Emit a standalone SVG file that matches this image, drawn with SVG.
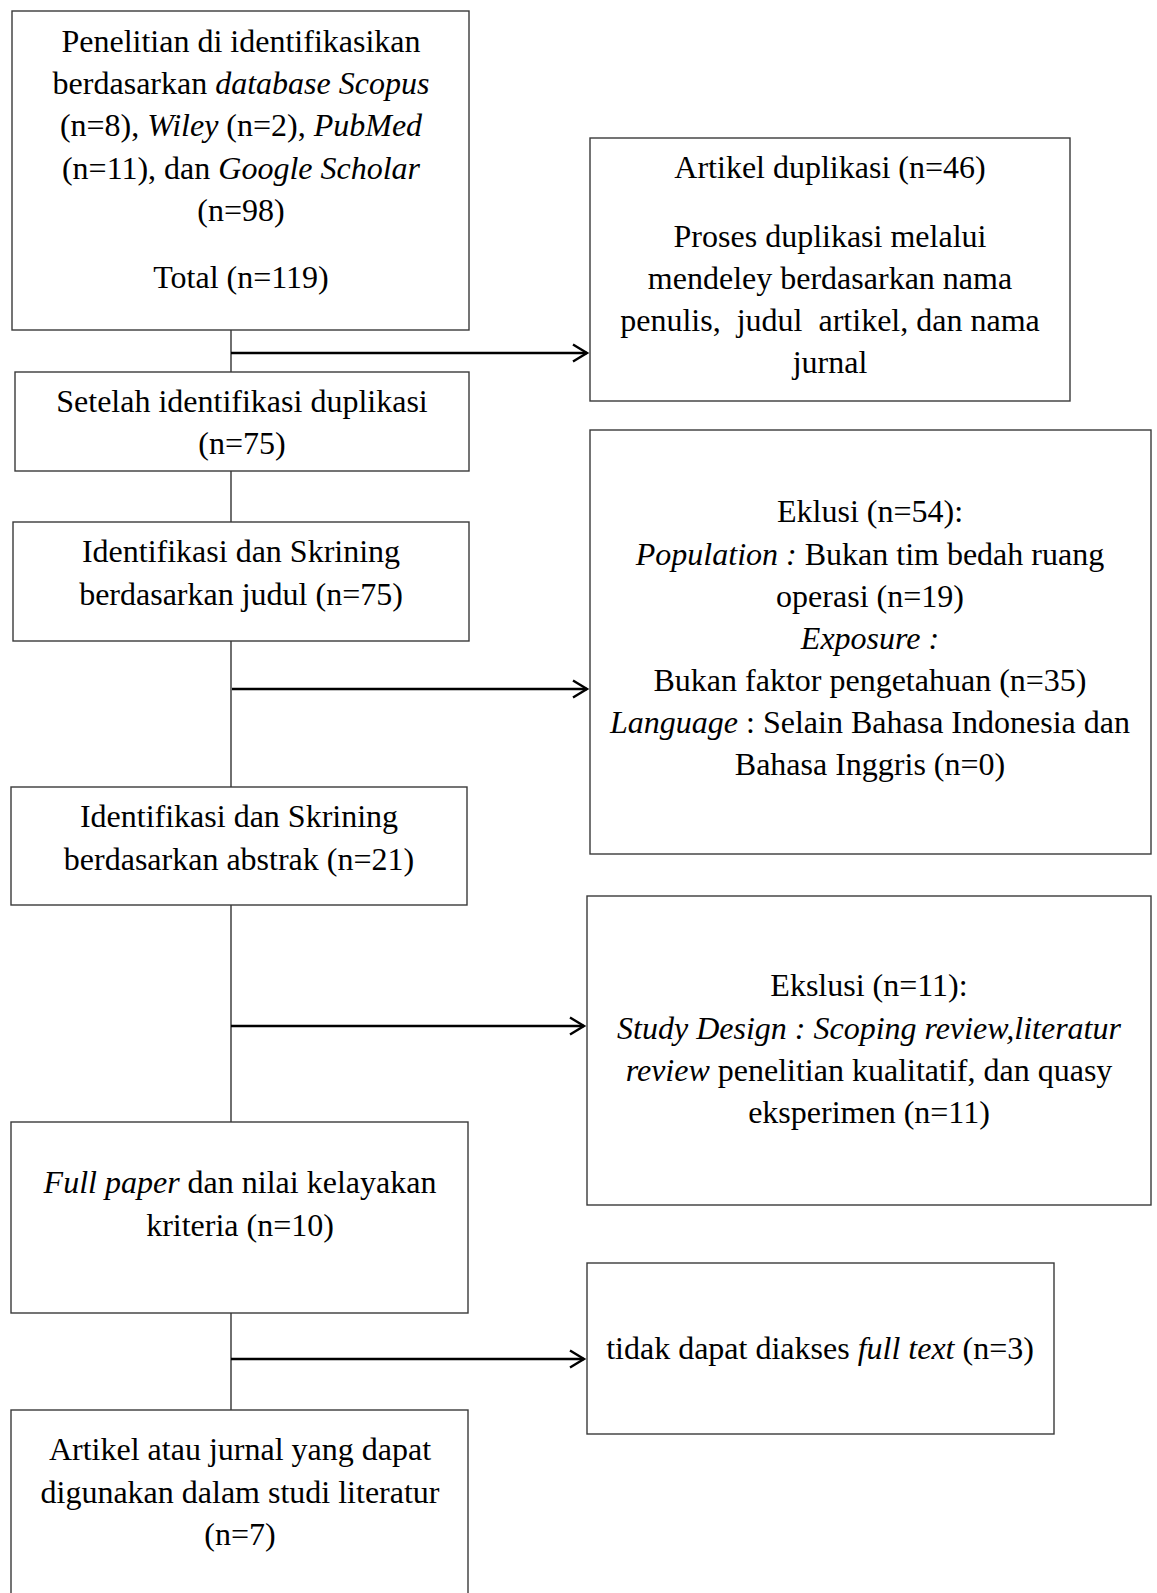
<svg xmlns="http://www.w3.org/2000/svg" width="1157" height="1593" viewBox="0 0 1157 1593">
<style>
.box{fill:#fff;stroke:#3a3a3a;stroke-width:1.4}
.t{font-family:"Liberation Serif","Times New Roman",serif;font-size:32px;fill:#000;text-anchor:middle;white-space:pre}
.i{font-style:italic}
.v{stroke:#222;stroke-width:1.3;fill:none}
.h{stroke:#000;stroke-width:2.6;fill:none}
</style>
<defs>
<marker id="arr" markerUnits="userSpaceOnUse" markerWidth="20" markerHeight="24" refX="15" refY="10" orient="auto">
<path d="M1,1.5 L15,10 L1,18.5" fill="none" stroke="#000" stroke-width="2.4"/>
</marker>
</defs>
<rect width="1157" height="1593" fill="#fff"/>
<g id="connectors">
<line class="v" x1="231" y1="330" x2="231" y2="377"/>
<line class="v" x1="231" y1="471" x2="231" y2="522"/>
<line class="v" x1="231" y1="641" x2="231" y2="787"/>
<line class="v" x1="231" y1="905" x2="231" y2="1122"/>
<line class="v" x1="231" y1="1313" x2="231" y2="1410"/>
<line class="h" x1="231" y1="353" x2="587" y2="353" marker-end="url(#arr)"/>
<line class="h" x1="232" y1="689" x2="587" y2="689" marker-end="url(#arr)"/>
<line class="h" x1="231" y1="1026" x2="584" y2="1026" marker-end="url(#arr)"/>
<line class="h" x1="231" y1="1359" x2="584" y2="1359" marker-end="url(#arr)"/>
</g>
<g id="nodeA">
<rect class="box" x="12" y="11" width="457" height="319"/>
<text class="t" x="241" y="52">Penelitian di identifikasikan</text>
<text class="t" x="241" y="94">berdasarkan <tspan class="i">database Scopus</tspan></text>
<text class="t" x="241" y="136">(n=8), <tspan class="i">Wiley</tspan> (n=2), <tspan class="i">PubMed</tspan></text>
<text class="t" x="241" y="179">(n=11), dan <tspan class="i">Google Scholar</tspan></text>
<text class="t" x="241" y="221">(n=98)</text>
<text class="t" x="241" y="288">Total (n=119)</text>
</g>
<g id="nodeB">
<rect class="box" x="590" y="138" width="480" height="263"/>
<text class="t" x="830" y="178">Artikel duplikasi (n=46)</text>
<text class="t" x="830" y="247">Proses duplikasi melalui</text>
<text class="t" x="830" y="289">mendeley berdasarkan nama</text>
<text class="t" x="830" y="331">penulis,  judul  artikel, dan nama</text>
<text class="t" x="830" y="373">jurnal</text>
</g>
<g id="nodeC">
<rect class="box" x="15" y="372" width="454" height="99"/>
<text class="t" x="242" y="412">Setelah identifikasi duplikasi</text>
<text class="t" x="242" y="454">(n=75)</text>
</g>
<g id="nodeD">
<rect class="box" x="13" y="522" width="456" height="119"/>
<text class="t" x="241" y="562">Identifikasi dan Skrining</text>
<text class="t" x="241" y="605">berdasarkan judul (n=75)</text>
</g>
<g id="nodeE">
<rect class="box" x="590" y="430" width="561" height="424"/>
<text class="t" x="870" y="522">Eklusi (n=54):</text>
<text class="t" x="870" y="565"><tspan class="i">Population :</tspan> Bukan tim bedah ruang</text>
<text class="t" x="870" y="607">operasi (n=19)</text>
<text class="t" x="870" y="649"><tspan class="i">Exposure :</tspan></text>
<text class="t" x="870" y="691">Bukan faktor pengetahuan (n=35)</text>
<text class="t" x="870" y="733"><tspan class="i">Language</tspan> : Selain Bahasa Indonesia dan</text>
<text class="t" x="870" y="775">Bahasa Inggris (n=0)</text>
</g>
<g id="nodeF">
<rect class="box" x="11" y="787" width="456" height="118"/>
<text class="t" x="239" y="827">Identifikasi dan Skrining</text>
<text class="t" x="239" y="870">berdasarkan abstrak (n=21)</text>
</g>
<g id="nodeG">
<rect class="box" x="587" y="896" width="564" height="309"/>
<text class="t" x="869" y="996">Ekslusi (n=11):</text>
<text class="t" x="869" y="1039"><tspan class="i">Study Design : Scoping review,literatur</tspan></text>
<text class="t" x="869" y="1081"><tspan class="i">review</tspan> penelitian kualitatif, dan quasy</text>
<text class="t" x="869" y="1123">eksperimen (n=11)</text>
</g>
<g id="nodeH">
<rect class="box" x="11" y="1122" width="457" height="191"/>
<text class="t" x="240" y="1193"><tspan class="i">Full paper</tspan> dan nilai kelayakan</text>
<text class="t" x="240" y="1236">kriteria (n=10)</text>
</g>
<g id="nodeI">
<rect class="box" x="587" y="1263" width="467" height="171"/>
<text class="t" x="820" y="1359">tidak dapat diakses <tspan class="i">full text</tspan> (n=3)</text>
</g>
<g id="nodeJ">
<rect class="box" x="11" y="1410" width="457" height="190"/>
<text class="t" x="240" y="1460">Artikel atau jurnal yang dapat</text>
<text class="t" x="240" y="1503">digunakan dalam studi literatur</text>
<text class="t" x="240" y="1545">(n=7)</text>
</g>
</svg>
